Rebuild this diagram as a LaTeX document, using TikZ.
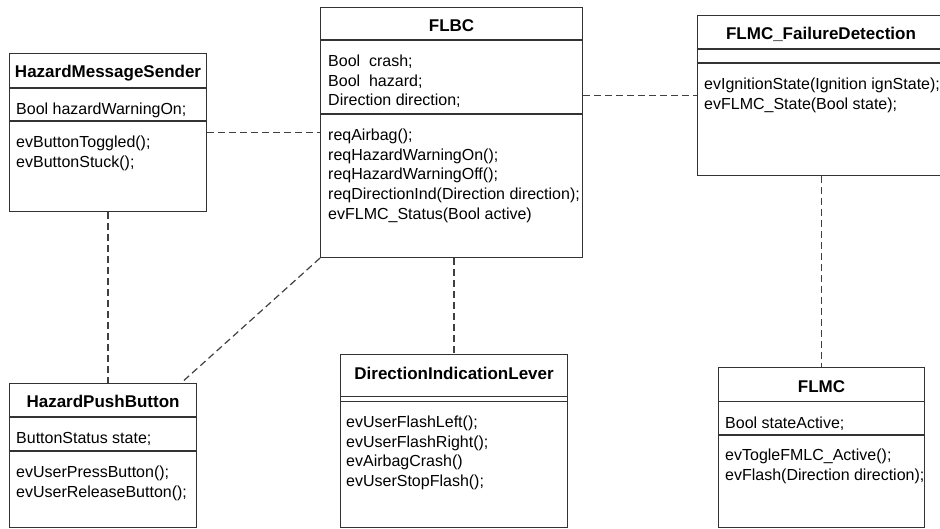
\documentclass[tikz,border=0pt]{standalone}
\usepackage{fontspec}
\setmainfont{Liberation Sans}
\usetikzlibrary{calc}

\tikzset{
  classbox/.style={draw=black!80, line width=1.1pt, anchor=north west, inner sep=0pt},
  classline/.style={draw=black!80, line width=1.1pt},
  classtitle/.style={anchor=base, inner sep=0pt, font=\bfseries\fontsize{17}{20}\selectfont},
  member/.style={anchor=north west, inner sep=0pt, align=left, font=\fontsize{16}{19.6}\selectfont},
  assoc/.style={draw=black!75, line width=1.2pt, dash pattern=on 7pt off 4pt}
}

\begin{document}
\begin{tikzpicture}[x=1pt, y=-1pt]
  \useasboundingbox (0,0) rectangle (940,529);
  \clip (0,0) rectangle (940,529);

  % HazardMessageSender
  \node[classbox, minimum width=197pt, minimum height=158pt] (hms) at (9,53) {};
  \node[classtitle] (hmsTitle) at ($(hms.north)+(0,25)$) {HazardMessageSender};
  \draw[classline] ($(hms.north west)+(0,35)$) -- ($(hms.north east)+(0,35)$);
  \draw[classline] ($(hms.north west)+(0,68)$) -- ($(hms.north east)+(0,68)$);
  \node[member] (hmsAttr) at ($(hms.north west)+(7,50)$) {Bool hazardWarningOn;};
  \node[member] (hmsOps) at ($(hms.north west)+(7,83)$) {evButtonToggled();\\evButtonStuck();};

  % FLBC
  \node[classbox, minimum width=262pt, minimum height=250pt] (flbc) at (320,7) {};
  \node[classtitle] (flbcTitle) at ($(flbc.north)+(0,24.5)$) {FLBC};
  \draw[classline] ($(flbc.north west)+(0,33)$) -- ($(flbc.north east)+(0,33)$);
  \draw[classline] ($(flbc.north west)+(0,107)$) -- ($(flbc.north east)+(0,107)$);
  \node[member] (flbcAttr) at ($(flbc.north west)+(8,48)$) {Bool\ \ crash;\\Bool\ \ hazard;\\Direction direction;};
  \node[member] (flbcOps) at ($(flbc.north west)+(8,122)$) {reqAirbag();\\reqHazardWarningOn();\\reqHazardWarningOff();\\reqDirectionInd(Direction direction);\\evFLMC\_Status(Bool active)};

  % FLMC_FailureDetection
  \node[classbox, minimum width=245pt, minimum height=160pt] (fd) at (697,15) {};
  \node[classtitle] (fdTitle) at ($(fd.north west)+(124,25)$) {FLMC\_FailureDetection};
  \draw[classline] ($(fd.north west)+(0,34)$) -- ($(fd.north east)+(0,34)$);
  \draw[classline] ($(fd.north west)+(0,48)$) -- ($(fd.north east)+(0,48)$);
  \node[member] (fdOps) at ($(fd.north west)+(7,63)$) {evIgnitionState(Ignition ignState);\\evFLMC\_State(Bool state);};

  % HazardPushButton
  \node[classbox, minimum width=187pt, minimum height=144pt] (hpb) at (9,383) {};
  \node[classtitle] (hpbTitle) at ($(hpb.north)+(0,24.5)$) {HazardPushButton};
  \draw[classline] ($(hpb.north west)+(0,34)$) -- ($(hpb.north east)+(0,34)$);
  \draw[classline] ($(hpb.north west)+(0,68)$) -- ($(hpb.north east)+(0,68)$);
  \node[member] (hpbAttr) at ($(hpb.north west)+(7,49)$) {ButtonStatus state;};
  \node[member] (hpbOps) at ($(hpb.north west)+(7,83)$) {evUserPressButton();\\evUserReleaseButton();};

  % DirectionIndicationLever
  \node[classbox, minimum width=227pt, minimum height=173pt] (dil) at (340,354) {};
  \node[classtitle] (dilTitle) at ($(dil.north)+(0,25.5)$) {DirectionIndicationLever};
  \draw[classline] ($(dil.north west)+(0,42.5)$) -- ($(dil.north east)+(0,42.5)$);
  \draw[classline] ($(dil.north west)+(0,47.5)$) -- ($(dil.north east)+(0,47.5)$);
  \node[member] (dilOps) at ($(dil.north west)+(6,62)$) {evUserFlashLeft();\\evUserFlashRight();\\evAirbagCrash()\\evUserStopFlash();};

  % FLMC
  \node[classbox, minimum width=206pt, minimum height=160pt] (flmc) at (718,367) {};
  \node[classtitle] (flmcTitle) at ($(flmc.north)+(0,25)$) {FLMC};
  \draw[classline] ($(flmc.north west)+(0,34.5)$) -- ($(flmc.north east)+(0,34.5)$);
  \draw[classline] ($(flmc.north west)+(0,68)$) -- ($(flmc.north east)+(0,68)$);
  \node[member] (flmcAttr) at ($(flmc.north west)+(7,49.5)$) {Bool stateActive;};
  \node[member] (flmcOps) at ($(flmc.north west)+(7,82)$) {evTogleFMLC\_Active();\\evFlash(Direction direction);};

  % associations
  \draw[assoc] (hms.east) -- (hms.east -| flbc.west);
  \draw[assoc] (fd.west -| flbc.east) -- (fd.west);
  \draw[assoc] (hms.south) -- (hms.south |- hpb.north);
  \coordinate (hpbEnd) at ($(hpb.north east)+(-16,0)$);
  \draw[assoc] (flbc.south west) -- (hpbEnd);
  \draw[assoc] (dil.north |- flbc.south) -- (dil.north);
  \draw[assoc] (flmc.north |- fd.south) -- (flmc.north);
\end{tikzpicture}
\end{document}
